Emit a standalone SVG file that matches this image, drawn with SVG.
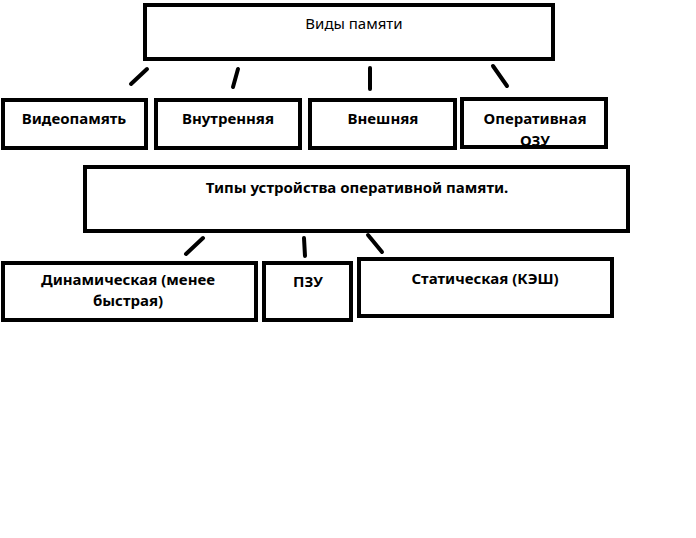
<svg xmlns="http://www.w3.org/2000/svg" width="696" height="538" viewBox="0 0 696 538">
  <style>
    .box { fill: #ffffff; stroke: #000000; stroke-width: 4; }
    .link { stroke: #000000; stroke-width: 4; stroke-linecap: round; fill: none; }
    .t { font-family: "Noto Sans", "Open Sans", "DejaVu Sans", sans-serif; font-size: 15px; fill: #000000; text-anchor: middle; }
    .b { font-weight: bold; }
  </style>
  <rect width="696" height="538" fill="#ffffff"/>

  <g id="connectors">
    <line class="link" x1="147" y1="69" x2="131" y2="84"/>
    <line class="link" x1="238" y1="69" x2="233" y2="87"/>
    <line class="link" x1="370" y1="68" x2="370" y2="89"/>
    <line class="link" x1="493" y1="66" x2="507" y2="86"/>
    <line class="link" x1="203" y1="238" x2="186" y2="254"/>
    <line class="link" x1="304" y1="238" x2="305" y2="256"/>
    <line class="link" x1="368" y1="235" x2="382" y2="252"/>
  </g>

  <g id="memory-types">
    <rect class="box" x="145" y="5" width="408" height="54"/>
    <line class="link" x1="554" y1="48" x2="554" y2="56" style="stroke-width:2"/>
    <text class="t" x="354" y="29">Виды памяти</text>
  </g>

  <g id="video-memory">
    <rect class="box" x="3" y="100" width="143" height="48"/>
    <text class="t b" x="74" y="124">Видеопамять</text>
  </g>

  <g id="internal">
    <rect class="box" x="156" y="100" width="144" height="48"/>
    <text class="t b" x="228" y="124">Внутренняя</text>
  </g>

  <g id="external">
    <rect class="box" x="310" y="100" width="145" height="48"/>
    <text class="t b" x="383" y="124">Внешняя</text>
  </g>

  <g id="ram">
    <rect class="box" x="462" y="99" width="144" height="48"/>
    <text class="t b" x="535" y="124">Оперативная</text>
    <text class="t b" x="535" y="146">ОЗУ</text>
  </g>

  <g id="ram-device-types">
    <rect class="box" x="85" y="167" width="543" height="64"/>
    <text class="t b" x="357" y="193">Типы устройства оперативной памяти.</text>
  </g>

  <g id="dynamic">
    <rect class="box" x="3" y="263" width="253" height="57"/>
    <text class="t b" x="128" y="285">Динамическая (менее</text>
    <text class="t b" x="128" y="306">быстрая)</text>
  </g>

  <g id="rom">
    <rect class="box" x="264" y="263" width="87" height="57"/>
    <text class="t b" x="308" y="287">ПЗУ</text>
  </g>

  <g id="static">
    <rect class="box" x="359" y="259" width="253" height="57"/>
    <text class="t b" x="485" y="284">Статическая (КЭШ)</text>
  </g>
</svg>
